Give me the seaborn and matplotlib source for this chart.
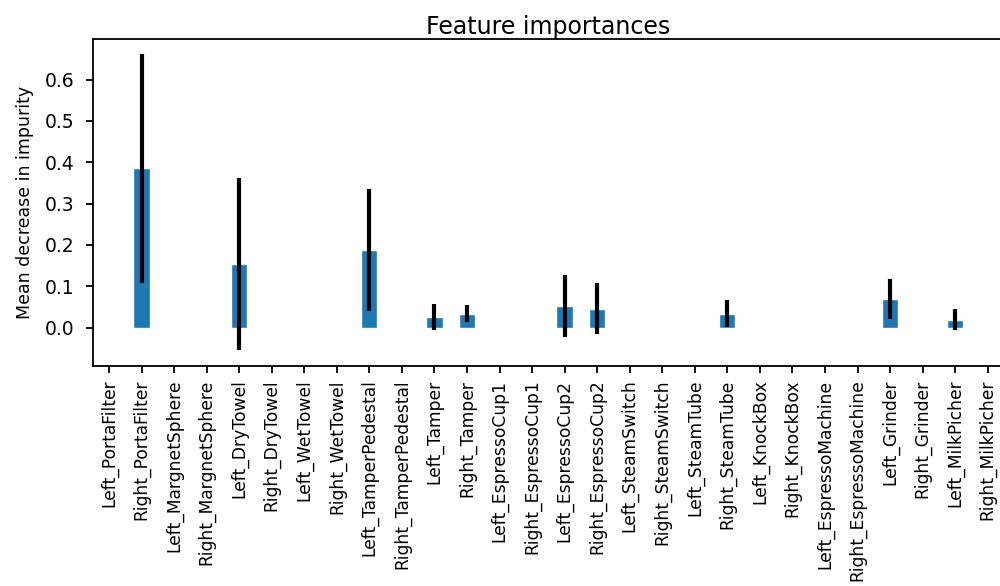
import matplotlib
matplotlib.use("Agg")
import matplotlib.pyplot as plt
import seaborn as sns
import pandas as pd
import numpy as np

features = [
    "Left_PortaFilter", "Right_PortaFilter", "Left_MargnetSphere", "Right_MargnetSphere",
    "Left_DryTowel", "Right_DryTowel", "Left_WetTowel", "Right_WetTowel",
    "Left_TamperPedestal", "Right_TamperPedestal", "Left_Tamper", "Right_Tamper",
    "Left_EspressoCup1", "Right_EspressoCup1", "Left_EspressoCup2", "Right_EspressoCup2",
    "Left_SteamSwitch", "Right_SteamSwitch", "Left_SteamTube", "Right_SteamTube",
    "Left_KnockBox", "Right_KnockBox", "Left_EspressoMachine", "Right_EspressoMachine",
    "Left_Grinder", "Right_Grinder", "Left_MilkPicher", "Right_MilkPicher",
]
importances = [
    0.0, 0.386, 0.0, 0.0,
    0.154, 0.0, 0.0, 0.0,
    0.188, 0.0, 0.025, 0.034,
    0.0, 0.0, 0.053, 0.046,
    0.0, 0.0, 0.0, 0.034,
    0.0, 0.0, 0.0, 0.0,
    0.069, 0.0, 0.019, 0.0,
]
std = [
    0.0, 0.277, 0.0, 0.0,
    0.208, 0.0, 0.0, 0.0,
    0.147, 0.0, 0.031, 0.021,
    0.0, 0.0, 0.075, 0.061,
    0.0, 0.0, 0.0, 0.033,
    0.0, 0.0, 0.0, 0.0,
    0.049, 0.0, 0.025, 0.0,
]
yticks = [0.0, 0.1, 0.2, 0.3, 0.4, 0.5, 0.6]
ytick_labels = ["0.0", "0.1", "0.2", "0.3", "0.4", "0.5", "0.6"]

df = pd.DataFrame({"feature": features, "importance": importances, "std": std})

sns.set_style("ticks", rc={"text.color": "black", "axes.labelcolor": "black",
                           "xtick.color": "black", "ytick.color": "black",
                           "axes.edgecolor": "black"})
plt.rcParams["font.family"] = ["DejaVu Sans"]

fig = plt.figure(figsize=(10, 5.86), dpi=100)
ax = fig.add_axes([0.0927, 0.376, 0.9113, 0.5573])

sns.barplot(data=df, x="feature", y="importance", color="#1f77b4", saturation=1,
            width=0.5, errorbar=None, ax=ax)
ax.errorbar(np.arange(len(features)), df["importance"], yerr=df["std"],
            fmt="none", ecolor="black", elinewidth=3, capsize=0)

ax.set_xlim(-0.5, len(features) - 0.5)
ax.set_ylim(-0.092, 0.698)
ax.set_yticks(yticks)
ax.set_yticklabels(ytick_labels)
ax.tick_params(axis="x", labelrotation=90, labelsize=12.3, length=5, width=1.3, pad=5)
ax.tick_params(axis="y", labelsize=13.5, length=5, width=1.3, pad=8)
for s in ax.spines.values():
    s.set_linewidth(1.3)
ax.set_xlabel("")
ax.set_ylabel("Mean decrease in impurity", fontsize=12.5, labelpad=8)
ax.set_title("Feature importances", fontsize=17, pad=4)

fig.savefig("out.png", dpi=100)
